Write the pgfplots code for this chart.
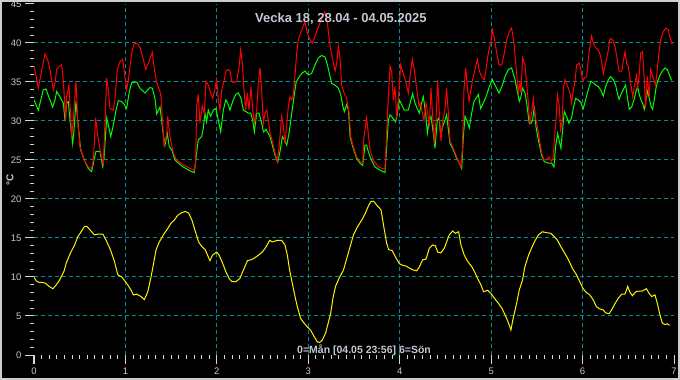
\documentclass[border=0pt]{standalone}
\usepackage{fontspec}
\setmainfont{Liberation Sans}
\usepackage{pgfplots}
\pgfplotsset{compat=1.18}
\definecolor{txt}{RGB}{196,202,212}
\definecolor{gridc}{RGB}{0,140,148}
\definecolor{cyanl}{RGB}{0,210,220}
\definecolor{tickc}{RGB}{215,215,215}
\definecolor{framec}{RGB}{205,205,205}
\begin{document}
\begin{tikzpicture}[x=1pt,y=1pt]
\useasboundingbox (0,0) rectangle (680,380);
\fill[black] (0,0) rectangle (680,380);
\begin{axis}[
  at={(34pt,25pt)}, anchor=south west,
  width=640pt, height=351pt, scale only axis,
  xmin=0, xmax=7, ymin=0, ymax=45,
  xtick={0,...,7}, ytick={0,5,...,45},
  minor x tick num=11, minor y tick num=4,
  tick align=outside, tick pos=left,
  major tick length=9pt, minor tick length=4pt,
  axis line style={draw=none},
  tick style={draw=tickc, line width=1pt},
  ticklabel style={font=\fontsize{9.5}{11}\selectfont, text=txt},
  /pgf/number format/assume math mode=true,
]
\pgfplotsinvokeforeach{1,2,3,4,5,6}{\draw[gridc, dash pattern=on 4pt off 3pt, line width=1pt] (axis cs:#1,0) -- (axis cs:#1,45);}
\pgfplotsinvokeforeach{5,10,15,20,25,30,35,40}{\draw[gridc, dash pattern=on 4pt off 3pt, line width=1pt] (axis cs:0,#1) -- (axis cs:7,#1);}
\draw[cyanl, dash pattern=on 9pt off 5pt, line width=1.2pt, xshift=1.5pt] (axis cs:7,0) -- (axis cs:7,45);
% yellow
\addplot[yellow, line width=1pt] coordinates {
(0.000,10.0)(0.025,9.5)(0.055,9.3)(0.091,9.3)(0.127,9.2)(0.164,8.8)(0.207,8.5)(0.244,9.0)(0.280,9.6)(0.327,10.7)(0.353,11.8)(0.396,13.0)(0.444,14.1)(0.480,15.2)(0.516,15.8)(0.553,16.5)(0.578,16.5)(0.615,16.0)(0.662,15.4)(0.698,15.5)(0.753,15.5)(0.789,14.7)(0.836,13.5)(0.880,12.0)(0.916,10.3)(0.960,10.0)(1.000,9.4)(1.036,8.8)(1.062,8.3)(1.087,7.7)(1.124,7.8)(1.171,7.5)(1.207,7.1)(1.244,8.1)(1.280,10.0)(1.309,11.8)(1.335,13.5)(1.371,14.5)(1.415,15.4)(1.462,16.2)(1.498,16.9)(1.535,17.3)(1.571,17.9)(1.607,18.2)(1.655,18.4)(1.691,18.2)(1.727,17.3)(1.771,15.6)(1.800,14.5)(1.836,13.9)(1.873,13.5)(1.898,12.8)(1.924,12.1)(1.953,12.8)(1.996,13.2)(2.025,12.8)(2.062,11.8)(2.098,10.7)(2.135,9.8)(2.164,9.4)(2.207,9.4)(2.251,9.8)(2.298,11.1)(2.335,12.1)(2.371,12.2)(2.407,12.4)(2.455,12.8)(2.498,13.2)(2.535,13.8)(2.578,14.7)(2.607,14.5)(2.662,14.7)(2.709,14.7)(2.745,14.1)(2.771,12.8)(2.796,10.9)(2.825,9.2)(2.855,7.5)(2.880,6.2)(2.916,4.7)(2.953,4.1)(2.989,3.6)(3.025,3.2)(3.062,2.4)(3.098,1.7)(3.124,1.6)(3.153,1.9)(3.189,2.8)(3.218,4.1)(3.244,5.3)(3.273,7.5)(3.298,8.8)(3.335,9.8)
(3.385,10.9)(3.421,12.4)(3.458,13.9)(3.494,15.4)(3.541,16.5)(3.585,17.3)(3.625,18.2)(3.661,19.2)(3.687,19.7)(3.716,19.7)(3.749,19.2)(3.796,18.6)(3.825,16.5)(3.858,14.3)(3.880,13.5)(3.916,13.4)(3.953,12.6)(3.996,11.7)(4.033,11.5)(4.069,11.4)(4.113,11.1)(4.149,10.9)(4.186,10.8)(4.215,11.3)(4.251,12.2)(4.288,12.3)(4.324,13.7)(4.360,14.1)(4.390,14.0)(4.415,13.2)(4.451,13.1)(4.488,13.7)(4.513,14.5)(4.542,15.4)(4.579,15.9)(4.608,15.6)(4.644,15.8)(4.670,14.1)(4.706,12.8)(4.743,12.0)(4.790,11.3)(4.826,10.5)(4.852,9.8)(4.888,9.0)(4.917,8.1)(4.961,8.3)(4.997,7.9)(5.034,7.3)(5.081,6.6)(5.118,6.0)(5.154,5.1)(5.190,4.1)(5.216,3.2)(5.241,4.7)(5.278,6.6)(5.307,8.3)(5.343,9.6)(5.369,11.3)(5.409,12.8)(5.445,13.8)(5.482,14.7)(5.518,15.4)(5.562,15.8)(5.598,15.7)(5.653,15.6)(5.689,15.2)(5.726,14.7)(5.762,13.9)(5.798,13.2)(5.846,12.2)(5.889,11.1)(5.933,10.3)(5.969,9.4)(6.006,8.5)(6.042,8.0)(6.079,7.7)(6.115,7.1)(6.151,6.2)(6.188,5.9)(6.224,5.8)(6.253,5.4)(6.290,5.3)(6.319,5.8)(6.355,6.6)(6.392,7.3)(6.428,7.8)(6.464,7.8)(6.494,8.8)(6.516,8.1)(6.545,7.6)(6.581,8.1)(6.617,8.2)(6.654,8.2)(6.698,8.5)(6.727,7.9)(6.756,7.5)(6.792,7.7)(6.818,6.6)(6.843,5.3)(6.872,4.1)(6.901,3.9)(6.927,4.0)(6.952,3.8)
};
% green
\addplot[green, line width=1pt] coordinates {
(0.000,32.7)(0.047,31.4)(0.102,34.0)(0.131,34.1)(0.168,32.9)(0.204,31.8)(0.230,32.7)(0.248,33.8)(0.284,33.1)(0.321,32.3)(0.339,30.1)(0.357,32.3)(0.375,32.5)(0.394,30.1)(0.423,27.1)(0.438,28.9)(0.459,32.5)(0.485,29.3)(0.510,26.3)(0.558,24.8)(0.594,23.9)(0.631,23.5)(0.656,25.0)(0.678,26.1)(0.722,26.1)(0.751,24.2)(0.766,25.2)(0.795,30.4)(0.813,29.5)(0.839,28.0)(0.868,29.5)(0.897,31.4)(0.922,32.6)(0.959,32.5)(0.988,32.1)(1.013,31.6)(1.043,33.8)(1.068,34.9)(1.123,35.0)(1.159,34.2)(1.214,33.6)(1.269,34.3)(1.294,34.2)(1.323,32.9)(1.342,30.9)(1.378,31.8)(1.396,30.1)(1.415,28.2)(1.433,26.9)(1.458,28.4)(1.480,26.7)(1.506,26.3)(1.542,25.0)(1.579,24.6)(1.633,24.1)(1.706,23.6)(1.754,23.4)
(1.779,25.9)(1.797,27.6)(1.833,28.0)(1.852,29.1)(1.870,31.0)(1.888,29.9)(1.906,31.4)(1.932,30.6)(1.961,31.4)(1.990,31.6)(2.016,30.1)(2.042,28.6)(2.071,31.4)(2.097,32.7)(2.118,32.3)(2.144,31.4)(2.173,32.5)(2.206,33.4)(2.235,33.6)(2.264,32.9)(2.290,31.4)(2.319,31.2)(2.344,31.0)(2.370,31.0)(2.392,30.1)(2.410,28.6)(2.436,31.0)(2.461,31.0)(2.491,29.7)(2.509,28.6)(2.538,28.9)(2.563,28.4)(2.582,28.0)(2.611,26.7)(2.636,25.6)(2.666,24.7)(2.691,26.1)(2.717,28.0)(2.738,27.6)(2.764,26.9)(2.789,28.4)(2.819,31.0)(2.844,33.1)(2.866,34.9)(2.891,35.5)(2.928,36.1)(2.964,36.4)(3.001,35.9)(3.037,36.1)(3.074,37.2)(3.110,38.1)(3.147,38.4)(3.183,38.2)(3.209,37.2)(3.238,35.7)(3.256,34.8)(3.293,34.6)(3.329,34.2)(3.355,33.4)(3.377,31.9)(3.395,31.2)(3.420,32.1)(3.439,31.4)(3.457,28.0)(3.486,26.7)
(3.529,25.2)(3.565,24.6)(3.594,24.3)(3.620,26.9)(3.638,26.9)(3.656,26.1)(3.682,25.2)(3.730,24.1)(3.784,23.7)(3.839,23.4)(3.857,26.7)(3.876,30.1)(3.894,30.8)(3.923,30.4)(3.956,29.9)(3.974,31.0)(3.996,32.7)(4.021,32.1)(4.050,31.4)(4.094,31.4)(4.119,32.5)(4.141,33.5)(4.167,32.3)(4.192,31.6)(4.214,31.0)(4.240,32.3)(4.258,33.1)(4.284,31.0)(4.302,28.4)(4.324,30.1)(4.342,30.6)(4.360,29.1)(4.386,26.5)(4.411,30.1)(4.429,30.4)(4.448,28.2)(4.470,29.3)(4.495,30.1)(4.513,30.8)(4.532,28.9)(4.550,27.1)(4.579,26.5)(4.616,25.4)(4.652,24.6)(4.678,23.9)(4.696,28.0)(4.714,30.6)(4.740,29.9)(4.761,29.1)(4.787,31.0)(4.812,32.5)(4.834,32.9)(4.860,33.4)(4.885,31.6)(4.914,32.3)(4.944,33.1)(4.980,34.4)(5.014,35.3)(5.043,34.6)(5.086,33.6)(5.123,34.6)(5.152,35.7)(5.188,36.6)
(5.224,36.8)(5.261,35.3)(5.286,33.8)(5.308,32.5)(5.326,33.1)(5.344,34.2)(5.370,33.6)(5.388,32.3)(5.417,29.7)(5.435,29.7)(5.454,30.1)(5.472,31.9)(5.490,29.3)(5.516,27.6)(5.552,25.6)(5.581,24.8)(5.625,24.6)(5.662,24.6)(5.687,24.1)(5.705,26.7)(5.727,28.4)(5.745,27.4)(5.763,26.5)(5.782,28.9)(5.800,31.2)(5.825,30.6)(5.851,29.7)(5.880,30.4)(5.898,31.6)(5.924,32.9)(5.953,32.7)(5.979,32.4)(6.008,31.6)(6.033,32.7)(6.062,34.0)(6.091,35.1)(6.117,34.9)(6.146,34.6)(6.172,34.4)(6.198,34.0)(6.227,33.2)(6.252,34.4)(6.282,35.3)(6.307,35.7)(6.336,35.3)(6.362,34.6)(6.380,33.6)(6.398,32.8)(6.427,33.6)(6.453,34.2)(6.471,34.6)(6.489,33.1)(6.511,31.5)(6.537,31.8)(6.562,32.7)(6.584,33.8)(6.602,34.4)(6.620,33.4)(6.639,32.7)(6.656,32.3)(6.675,31.5)(6.693,32.7)(6.711,33.8)(6.730,32.9)(6.748,31.9)(6.766,31.5)(6.784,32.7)(6.803,34.2)(6.821,35.1)(6.847,35.9)(6.872,36.4)(6.901,36.8)(6.927,36.6)(6.949,35.9)(6.974,35.2)
};
% red
\addplot[red, line width=1pt] coordinates {
(0.000,37.1)(0.047,34.2)(0.120,38.6)(0.157,37.6)(0.182,36.1)(0.211,34.0)(0.230,34.9)(0.248,36.6)(0.277,37.0)(0.303,37.2)(0.321,35.1)(0.339,31.6)(0.346,30.1)(0.357,33.1)(0.383,34.6)(0.412,28.0)(0.430,30.1)(0.459,35.1)(0.478,30.1)(0.503,26.7)(0.547,25.0)(0.594,24.1)(0.631,23.9)(0.649,25.0)(0.674,30.4)(0.696,28.2)(0.722,26.3)(0.758,24.4)(0.766,26.7)(0.795,35.5)(0.813,34.0)(0.831,31.6)(0.868,31.4)(0.886,32.9)(0.911,36.6)(0.941,37.6)(0.970,37.9)(1.013,34.0)(1.032,35.3)(1.068,38.7)(1.094,39.9)(1.130,40.0)(1.159,39.4)(1.196,37.9)(1.221,36.6)(1.250,37.4)(1.294,38.8)(1.312,37.0)(1.342,34.9)(1.378,33.8)(1.389,33.1)(1.404,30.1)(1.422,26.9)(1.451,28.2)(1.462,30.6)(1.487,28.0)(1.524,25.9)(1.560,25.0)(1.633,24.4)(1.706,23.9)(1.754,23.7)
(1.768,24.8)(1.779,31.9)(1.797,33.4)(1.815,29.7)(1.841,31.9)(1.863,31.0)(1.881,35.1)(1.906,34.6)(1.932,33.6)(1.954,32.9)(1.980,34.2)(1.998,35.3)(2.016,32.7)(2.034,31.4)(2.053,34.0)(2.078,35.1)(2.100,36.4)(2.126,36.6)(2.144,36.4)(2.162,35.1)(2.188,34.9)(2.217,35.1)(2.246,37.2)(2.260,39.1)(2.279,37.4)(2.297,34.0)(2.315,31.4)(2.333,33.6)(2.352,31.4)(2.374,34.4)(2.392,31.4)(2.410,29.7)(2.436,31.4)(2.454,34.9)(2.472,36.8)(2.491,33.6)(2.509,29.7)(2.527,31.0)(2.545,31.4)(2.563,30.1)(2.582,28.4)(2.607,27.4)(2.636,25.9)(2.662,24.8)(2.684,27.1)(2.709,30.6)(2.728,29.3)(2.746,27.1)(2.764,29.5)(2.782,31.9)(2.800,33.1)(2.819,32.7)(2.837,33.4)(2.855,35.9)(2.873,38.7)(2.891,40.4)(2.928,41.7)(2.964,42.7)(2.990,41.3)(3.019,40.4)(3.048,40.0)(3.085,41.3)(3.129,42.6)(3.180,44.0)(3.209,42.6)(3.238,39.6)(3.267,37.9)(3.293,36.4)(3.311,37.4)(3.329,39.6)(3.348,37.9)(3.366,34.6)(3.391,33.6)(3.420,32.9)(3.446,31.0)(3.464,28.0)(3.493,26.7)
(3.529,25.4)(3.565,24.8)(3.594,24.6)(3.609,28.0)(3.638,30.4)(3.656,28.4)(3.675,26.3)(3.711,25.0)(3.766,24.1)(3.839,23.8)(3.850,26.7)(3.876,33.1)(3.894,37.0)(3.912,36.4)(3.930,32.7)(3.949,34.4)(3.967,30.4)(3.993,34.0)(4.010,37.2)(4.039,36.1)(4.065,35.1)(4.094,33.6)(4.112,35.7)(4.138,37.9)(4.160,36.6)(4.185,34.2)(4.211,31.9)(4.229,32.3)(4.247,31.0)(4.266,30.1)(4.288,32.3)(4.306,31.0)(4.324,29.3)(4.342,34.2)(4.360,30.8)(4.379,27.1)(4.397,30.1)(4.415,35.3)(4.433,31.0)(4.451,27.4)(4.470,30.1)(4.495,31.4)(4.513,34.2)(4.532,31.0)(4.550,27.4)(4.579,26.7)(4.616,25.6)(4.652,24.6)(4.670,24.1)(4.685,26.3)(4.703,34.0)(4.721,36.8)(4.740,34.4)(4.758,32.5)(4.776,33.8)(4.794,35.1)(4.823,36.6)(4.849,37.9)(4.871,36.4)(4.896,35.7)(4.925,35.3)(4.944,36.6)(4.969,38.7)(4.995,40.0)(5.014,41.7)(5.035,40.6)(5.061,38.7)(5.086,37.2)(5.116,37.2)(5.141,38.5)(5.170,40.4)(5.199,41.5)
(5.224,41.9)(5.250,40.0)(5.272,37.0)(5.297,33.6)(5.315,34.9)(5.326,33.6)(5.344,38.1)(5.370,37.2)(5.388,34.9)(5.406,32.3)(5.424,29.7)(5.443,31.0)(5.461,32.9)(5.479,30.6)(5.497,29.9)(5.526,27.8)(5.552,25.9)(5.578,25.0)(5.607,25.0)(5.633,25.4)(5.662,24.8)(5.680,25.4)(5.694,28.0)(5.709,30.1)(5.724,33.4)(5.745,31.9)(5.760,28.9)(5.778,30.1)(5.789,34.0)(5.807,35.3)(5.833,34.6)(5.862,33.6)(5.880,32.3)(5.898,33.8)(5.917,35.1)(5.935,37.2)(5.964,37.4)(5.982,36.6)(6.000,35.1)(6.019,35.5)(6.044,35.7)(6.062,37.9)(6.081,39.6)(6.099,40.9)(6.117,40.0)(6.143,39.4)(6.172,39.1)(6.198,38.3)(6.227,36.1)(6.252,37.4)(6.282,39.1)(6.300,40.6)(6.329,40.4)(6.354,39.6)(6.373,38.3)(6.398,36.4)(6.427,36.4)(6.445,37.6)(6.464,38.9)(6.482,37.4)(6.500,37.0)(6.518,35.5)(6.548,33.1)(6.573,34.9)(6.591,35.9)(6.602,34.4)(6.617,35.5)(6.635,38.7)(6.656,38.9)(6.675,35.3)(6.689,31.6)(6.708,35.7)(6.730,33.1)(6.744,36.6)(6.773,35.5)(6.799,34.6)(6.817,36.6)(6.835,38.7)(6.854,40.4)(6.883,41.5)(6.912,41.9)(6.938,41.7)(6.963,40.4)(6.982,39.8)
};
\end{axis}
\node[anchor=base west, inner sep=0pt, text=txt, font=\fontsize{13}{15}\selectfont\bfseries] at (255,357.3) {Vecka 18, 28.04 - 04.05.2025};
\node[anchor=base west, inner sep=0pt, text=txt, font=\fontsize{10.5}{12}\selectfont\bfseries] at (297,26) {0=Mån [04.05 23:56] 6=Sön};
\node[rotate=90, inner sep=0pt, text=txt, font=\fontsize{10}{12}\selectfont\bfseries] at (10,200) {°C};
\draw[framec, line width=2pt] (1,1) rectangle (679,379);
\end{tikzpicture}
\end{document}
